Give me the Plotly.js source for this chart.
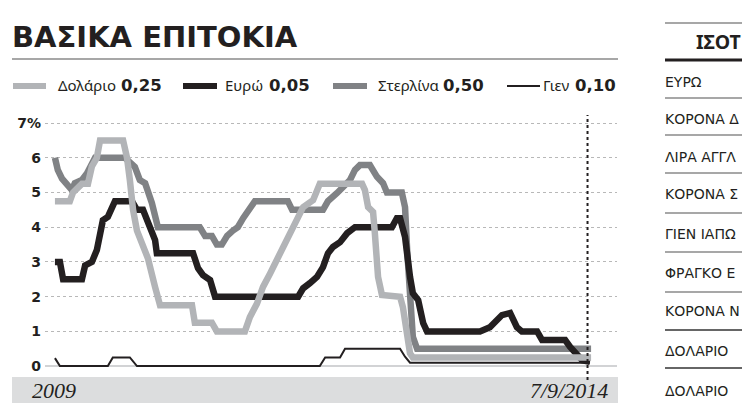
<!DOCTYPE html>
<html>
<head>
<meta charset="utf-8">
<script src="https://cdn.plot.ly/plotly-3.0.1.min.js"></script>
<style>
  html, body { margin:0; padding:0; background:#fff; overflow:hidden; }
  #chart { width:742px; height:418px; }
</style>
</head>
<body>
<div id="chart"></div>
<script>
// ---------------- DATA ----------------
const titleText = "ΒΑΣΙΚΑ ΕΠΙΤΟΚΙΑ";
const seriesNames = ["Δολάριο", "Ευρώ", "Στερλίνα", "Γιεν"];
const seriesLatest = ["0,25", "0,05", "0,50", "0,10"];
const startLabel = "2009";
const endLabel = "7/9/2014";
const markerDate = 2014.0;
const yTickVals = [0, 1, 2, 3, 4, 5, 6, 7];
const yTickText = ["0", "1", "2", "3", "4", "5", "6", "7%"];

// Dollar (decimal year, rate %)
const dollarX = [1999.00,1999.42,1999.51,1999.65,1999.76,1999.93,2000.04,2000.18,2000.27,2000.92,2001.03,2001.11,2001.20,2001.31,2001.45,2001.54,2001.62,2001.82,2001.96,2002.86,2002.94,2003.42,2003.56,2004.35,2004.49,2004.69,2004.86,2005.06,2005.25,2005.42,2005.62,2005.82,2005.99,2006.27,2006.46,2007.65,2007.73,2007.82,2007.96,2008.01,2008.10,2008.21,2008.72,2008.80,2008.92,2009.00,2009.08,2014.10];
const dollarY = [4.75,4.75,5.0,5.16,5.25,5.25,5.75,6.0,6.5,6.5,6.0,5.36,4.5,3.9,3.54,3.25,3.1,2.28,1.75,1.75,1.25,1.25,1.0,1.0,1.41,1.8,2.28,2.67,3.05,3.43,3.83,4.2,4.58,4.78,5.25,5.25,5.07,4.58,4.44,3.83,2.57,2.05,2.0,1.7,0.84,0.37,0.25,0.25];

// Euro
const euroX = [1999.00,1999.14,1999.23,1999.76,1999.85,2000.04,2000.18,2000.35,2000.49,2000.63,2000.69,2001.17,2001.31,2001.48,2001.68,2001.82,2001.87,2002.89,2003.03,2003.17,2003.37,2003.51,2005.85,2005.99,2006.18,2006.38,2006.55,2006.69,2006.83,2007.03,2007.23,2007.45,2008.49,2008.63,2008.72,2008.86,2009.00,2009.08,2009.23,2009.37,2009.48,2010.97,2011.25,2011.39,2011.59,2011.82,2012.01,2012.15,2012.58,2012.72,2013.37,2013.51,2013.70,2013.85,2014.07];
const euroY = [3.0,3.0,2.5,2.5,2.9,3.0,3.34,4.2,4.3,4.7,4.75,4.75,4.5,4.5,4.0,3.63,3.25,3.25,2.82,2.62,2.48,2.0,2.0,2.24,2.39,2.57,2.85,3.25,3.43,3.57,3.83,4.0,4.0,4.26,4.26,3.72,2.57,2.1,1.9,1.24,1.0,1.0,1.12,1.27,1.47,1.53,1.12,1.0,1.0,0.75,0.75,0.55,0.32,0.17,0.12];

// Sterling
const sterlingX = [1999.00,1999.08,1999.20,1999.37,1999.48,1999.56,1999.76,1999.90,2000.04,2000.13,2000.97,2001.11,2001.25,2001.39,2001.54,2001.73,2001.90,2003.08,2003.23,2003.42,2003.56,2003.70,2003.85,2004.01,2004.15,2004.30,2004.49,2004.63,2005.56,2005.68,2006.55,2006.69,2006.94,2007.08,2007.31,2007.45,2007.59,2007.87,2008.07,2008.24,2008.35,2008.77,2008.86,2008.92,2009.00,2009.08,2009.20,2014.10];
const sterlingY = [6.0,5.65,5.4,5.2,5.07,5.27,5.36,5.55,5.85,6.0,6.0,5.85,5.74,5.36,5.27,4.7,4.0,4.0,3.75,3.75,3.5,3.5,3.75,3.9,4.0,4.26,4.5,4.75,4.75,4.5,4.5,4.75,4.98,5.12,5.36,5.65,5.79,5.79,5.45,5.27,5.0,5.0,4.58,3.34,1.9,0.84,0.5,0.5];

// Yen
const yenX = [1999.00,1999.14,2000.49,2000.63,2001.11,2001.31,2006.46,2006.61,2007.03,2007.17,2008.72,2008.86,2009.00,2014.07];
const yenY = [0.23,0.0,0.0,0.25,0.25,0.0,0.0,0.25,0.25,0.5,0.5,0.27,0.1,0.1];

// Side table (only the part visible at the page edge)
const tableTitle = "ΙΣΟΤ";
const tableRows = ["ΕΥΡΩ", "ΚΟΡΟΝΑ Δ", "ΛΙΡΑ ΑΓΓΛ", "ΚΟΡΟΝΑ Σ", "ΓΙΕΝ ΙΑΠΩ", "ΦΡΑΓΚΟ Ε", "ΚΟΡΟΝΑ Ν", "ΔΟΛΑΡΙΟ", "ΔΟΛΑΡΙΟ"];

// ---------------- STYLE ----------------
const C_LIGHT = "#b2b4b7", C_MID = "#808285", C_DARK = "#231f20";
const colors = [C_LIGHT, C_DARK, C_MID, C_DARK];
const widths = [6.5, 6.5, 6.5, 2];

const L = 45, R = 617, T = 105, B = 372;
const px = x => (x - L) / (R - L);
const py = y => (B - y) / (B - T);

const traces = [
  {x: sterlingX, y: sterlingY, name: seriesNames[2], mode: "lines", line: {color: colors[2], width: widths[2]}},
  {x: euroX, y: euroY, name: seriesNames[1], mode: "lines", line: {color: colors[1], width: widths[1]}},
  {x: dollarX, y: dollarY, name: seriesNames[0], mode: "lines", line: {color: colors[0], width: widths[0]}},
  {x: yenX, y: yenY, name: seriesNames[3], mode: "lines", line: {color: colors[3], width: widths[3]}}
].map(t => Object.assign(t, {hoverinfo: "skip"}));

const shapes = [];
const annotations = [];

// title + rule
annotations.push({text: titleText, xref: "paper", yref: "paper", x: px(10), y: py(37), xanchor: "left", yanchor: "middle", showarrow: false,
  font: {family: "DejaVu Sans", size: 29, weight: 700, color: C_DARK}});
shapes.push({type: "line", xref: "paper", yref: "paper", x0: px(12), x1: px(618), y0: py(59), y1: py(59), line: {color: "#8a8a8a", width: 1.5}});

// legend
const legSample = [[13, 46], [183, 217], [333, 367], [507, 540]];
const legName = [56, 223, 376, 541];
const legVal = [119, 267, 441, 573];
for (let i = 0; i < 4; i++) {
  shapes.push({type: "line", xref: "paper", yref: "paper", x0: px(legSample[i][0]), x1: px(legSample[i][1]), y0: py(86), y1: py(86), line: {color: colors[i], width: i === 3 ? 2 : 6}});
  annotations.push({text: seriesNames[i], xref: "paper", yref: "paper", x: px(legName[i]), y: py(85), xanchor: "left", yanchor: "middle", showarrow: false,
    font: {family: "Noto Sans", size: 15, color: C_DARK}});
  annotations.push({text: seriesLatest[i], xref: "paper", yref: "paper", x: px(legVal[i]), y: py(85), xanchor: "left", yanchor: "middle", showarrow: false,
    font: {family: "DejaVu Sans", size: 16.5, weight: 700, color: C_DARK}});
}

// bottom band
shapes.push({type: "rect", xref: "paper", yref: "paper", x0: px(12), x1: px(618), y0: py(403), y1: py(377), fillcolor: "#dcddde", line: {width: 0}, layer: "below"});
annotations.push({text: startLabel, xref: "paper", yref: "paper", x: px(30), y: py(390), xanchor: "left", yanchor: "middle", showarrow: false,
  font: {family: "Liberation Serif", size: 22, style: "italic", color: C_DARK}});
annotations.push({text: endLabel, xref: "paper", yref: "paper", x: px(610), y: py(390), xanchor: "right", yanchor: "middle", showarrow: false,
  font: {family: "Liberation Serif", size: 22, style: "italic", color: C_DARK}});

// vertical marker
shapes.push({type: "line", xref: "x", yref: "paper", x0: markerDate, x1: markerDate, y0: py(380), y1: py(115), line: {color: C_DARK, width: 2, dash: "dot"}});

// side table
shapes.push({type: "line", xref: "paper", yref: "paper", x0: px(665), x1: px(760), y0: py(23), y1: py(23), line: {color: "#8a8a8a", width: 1.5}});
shapes.push({type: "line", xref: "paper", yref: "paper", x0: px(665), x1: px(760), y0: py(60), y1: py(60), line: {color: C_DARK, width: 3}});
annotations.push({text: tableTitle, xref: "paper", yref: "paper", x: px(694), y: py(41), xanchor: "left", yanchor: "middle", showarrow: false,
  font: {family: "Noto Sans", size: 19.5, weight: 700, color: C_DARK}});
const rowCenters = [82, 118.5, 157, 194, 233.5, 272.5, 311, 350.5, 390.5];
const rowLines = [98, 135, 173, 213, 252, 292, 330, 368];
tableRows.forEach((r, i) => {
  annotations.push({text: r, xref: "paper", yref: "paper", x: px(663), y: py(rowCenters[i]), xanchor: "left", yanchor: "middle", showarrow: false,
    font: {family: "DejaVu Sans", size: 14, color: C_DARK}});
});
rowLines.forEach((y, i) => {
  shapes.push({type: "line", xref: "paper", yref: "paper", x0: px(665), x1: px(760), y0: py(y), y1: py(y), line: {color: i >= 6 ? "#333" : "#8a8a8a", width: 1.5}});
});

const layout = {
  width: 742, height: 418,
  margin: {l: L, r: 742 - R, t: T, b: 418 - B, pad: 0},
  paper_bgcolor: "#ffffff", plot_bgcolor: "#ffffff",
  showlegend: false,
  xaxis: {range: [1998.72, 2014.83], visible: false, fixedrange: true},
  yaxis: {range: [-0.17, 7.52], tickvals: yTickVals, ticktext: yTickText, ticks: "", ticklabelstandoff: 3,
    showgrid: true, gridcolor: "#b8b8b8", griddash: "dot", gridwidth: 1,
    zeroline: true, zerolinecolor: "#d2d3d5", zerolinewidth: 2, showline: false, fixedrange: true,
    tickfont: {family: "DejaVu Sans", size: 14, weight: 700, color: C_DARK}},
  shapes: shapes,
  annotations: annotations
};

Plotly.newPlot("chart", traces, layout, {displayModeBar: false, staticPlot: true});
</script>
</body>
</html>
